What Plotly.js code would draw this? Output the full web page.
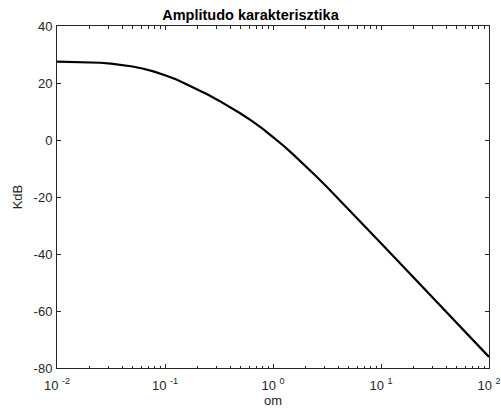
<!DOCTYPE html>
<html>
<head>
<meta charset="utf-8">
<script src="https://cdn.plot.ly/plotly-3.0.1.min.js"></script>
<style>html,body{margin:0;padding:0;background:#fff;}#chart{width:501px;height:412px;}</style>
</head>
<body>
<div id="chart"></div>
<script>
// Frequency (om) and magnitude (KdB)
const om = [0.01, 0.0158, 0.0251, 0.0316, 0.0398, 0.0501, 0.0631, 0.0794, 0.1, 0.126, 0.158, 0.2, 0.251, 0.316, 0.398, 0.501, 0.631, 0.794, 1, 1.26, 1.58, 2, 2.51, 3.16, 3.98, 5.01, 6.31, 7.94, 10, 15.8, 25.1, 39.8, 63.1, 100];
const kdb = [27.5, 27.4, 27.1, 26.8, 26.4, 25.8, 25.0, 24.0, 22.7, 21.3, 19.6, 17.8, 15.9, 13.8, 11.6, 9.3, 6.8, 4.1, 1.0, -2.1, -5.5, -9.0, -12.7, -16.5, -20.4, -24.3, -28.2, -32.2, -36.2, -44.1, -52.1, -60.1, -68.1, -76.1];

const xTickVals = [0.01, 0.1, 1, 10, 100];
const xTickText = ['10 <sup>-2</sup>', '10 <sup>-1</sup>', '10 <sup>0</sup>', '10 <sup>1</sup>', '10 <sup>2</sup>'];
const xMinorVals = [0.02,0.03,0.04,0.05,0.06,0.07,0.08,0.09,0.2,0.3,0.4,0.5,0.6,0.7,0.8,0.9,2,3,4,5,6,7,8,9,20,30,40,50,60,70,80,90];
const yTickVals = [-80, -60, -40, -20, 0, 20, 40];
const yTickText = ['-80', '-60', '-40', '-20', '0', '20', '40'];

const axisColor = '#262626';
const font = {family: 'Liberation Sans, Arial, sans-serif', size: 13, color: axisColor};

const trace = {
  x: om, y: kdb, type: 'scatter', mode: 'lines',
  line: {color: '#000000', width: 2.2, shape: 'linear'},
  hoverinfo: 'skip'
};

const layout = {
  width: 501, height: 412,
  margin: {l: 57, r: 12, t: 26, b: 44, pad: 0},
  paper_bgcolor: '#ffffff', plot_bgcolor: '#ffffff',
  font: font,
  showlegend: false,
  title: {text: '<b>Amplitudo karakterisztika</b>', x: 0.5, xanchor: 'center', y: 0.964, yanchor: 'middle',
          font: {family: 'Liberation Sans, Arial, sans-serif', size: 14.5, color: '#000'}},
  xaxis: {
    type: 'log', range: [-2, 2], autorange: false,
    tickmode: 'array', tickvals: xTickVals, ticktext: xTickText,
    ticks: 'inside', ticklen: 4, tickwidth: 1, tickcolor: axisColor,
    minor: {tickmode: 'array', tickvals: xMinorVals, ticks: 'inside', ticklen: 2.5, tickwidth: 1, tickcolor: axisColor},
    showline: true, linecolor: axisColor, linewidth: 1, mirror: 'ticks',
    showgrid: false, zeroline: false,
    tickfont: font, ticklabelstandoff: 5,
    title: {text: 'om', font: font, standoff: 3}
  },
  yaxis: {
    range: [-80, 40], autorange: false,
    tickmode: 'array', tickvals: yTickVals, ticktext: yTickText,
    ticks: 'inside', ticklen: 4, tickwidth: 1, tickcolor: axisColor,
    showline: true, linecolor: axisColor, linewidth: 1, mirror: 'ticks',
    showgrid: false, zeroline: false,
    tickfont: font, ticklabelstandoff: 1,
    title: {text: 'KdB', font: font, standoff: 8}
  }
};

Plotly.newPlot('chart', [trace], layout, {staticPlot: true, displayModeBar: false});
</script>
</body>
</html>
